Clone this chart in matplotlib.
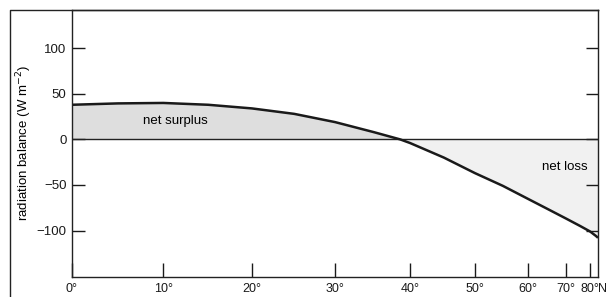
import numpy as np
import matplotlib.pyplot as plt
from matplotlib.lines import Line2D

plt.rcParams['font.family'] = ['Liberation Sans', 'DejaVu Sans']

# latitude (degrees N) and net radiation balance (W m-2)
latitude = [0, 5, 10, 15, 20, 25, 30, 35, 38.6, 40, 45, 50, 55, 60, 65, 70, 75, 80, 85, 90]
balance = [38, 39.5, 40, 38, 34, 28, 19, 8, 0, -4, -20, -37, -51, -65, -77, -87, -95, -101, -106, -108]

lat_ticks = [0, 10, 20, 30, 40, 50, 60, 70, 80]
lat_labels = ['0°', '10°', '20°', '30°', '40°', '50°', '60°', '70°', '80°']
y_ticks = [-100, -50, 0, 50, 100]


def fwd(x):
    return np.sin(np.radians(np.clip(x, 0, 90)))


def inv(s):
    return np.degrees(np.arcsin(np.clip(s, 0, 1)))


fig = plt.figure(figsize=(6.13, 2.97), dpi=100)
ax = fig.add_axes([72 / 613, 1 - 277 / 297, (598 - 72) / 613, (277 - 10) / 297])
ax.set_xscale('function', functions=(fwd, inv))

lat = np.array(latitude, dtype=float)
bal = np.array(balance, dtype=float)

ax.fill_between(lat, bal, 0, where=bal >= 0, interpolate=True,
                facecolor='#dedede', edgecolor='none')
ax.fill_between(lat, bal, 0, where=bal <= 0, interpolate=True,
                facecolor='#f1f1f1', edgecolor='none')
ax.axhline(0, color='#222222', lw=1.0)
ax.plot(lat, bal, color='#1a1a1a', lw=1.8, solid_capstyle='butt')

ax.text(11.3, 20, 'net surplus', fontsize=9.5, ha='center', va='center')
ax.text(69.6, -30, 'net loss', fontsize=9.5, ha='center', va='center')

ax.set_xlim(0, 90)
ax.set_ylim(-151, 142)
ax.set_xticks(lat_ticks)
ax.set_xticklabels(lat_labels)
ax.set_yticks(y_ticks)
ax.set_yticklabels(['\u2212100', '\u221250', '0', '50', '100'])
ax.minorticks_off()

ax.tick_params(axis='x', direction='in', length=10, width=1, pad=4,
               labelsize=9, colors='#1a1a1a')
ax.tick_params(axis='y', direction='in', length=9, width=1, pad=4,
               labelsize=9.5, colors='#1a1a1a', right=True)
for sp in ax.spines.values():
    sp.set_linewidth(1.0)
    sp.set_color('#222222')

ax.annotate('N', xy=(80, 0), xycoords=('data', 'axes fraction'),
            xytext=(6.0, -4), textcoords='offset points',
            ha='left', va='top', fontsize=9, color='#1a1a1a')

ax.set_ylabel('radiation balance (W m$^{-2}$)', fontsize=9.5, labelpad=2)

# outer frame
fig.add_artist(Line2D([10 / 613, 10 / 613, 598 / 613], [0, 1 - 10 / 297, 1 - 10 / 297],
                      transform=fig.transFigure, color='#222222', lw=1.0))

fig.savefig('out.png', dpi=100, facecolor='white')
